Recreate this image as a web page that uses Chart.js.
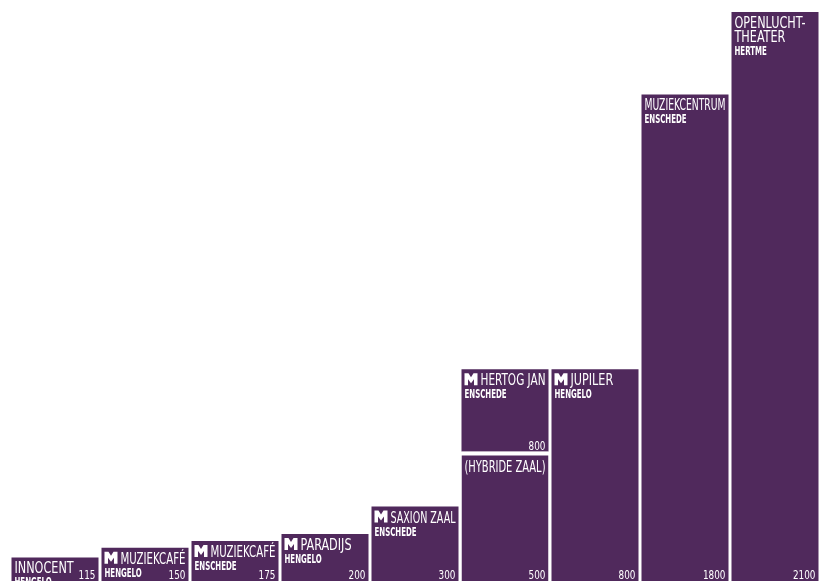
<!DOCTYPE html>
<html>
<head>
<meta charset="utf-8">
<script src="https://cdn.jsdelivr.net/npm/chart.js@4"></script>
<style>
  html, body { margin: 0; padding: 0; background: #fff; overflow: hidden; }
  #wrap { width: 824px; height: 581px; overflow: hidden; }
</style>
</head>
<body>
<div id="wrap"><canvas id="myChart" width="824" height="589"></canvas></div>
<script>
// venues, ordered by capacity
const venues = ["INNOCENT", "MUZIEKCAFÉ", "MUZIEKCAFÉ", "PARADIJS", "SAXION ZAAL", "HERTOG JAN", "JUPILER", "MUZIEKCENTRUM", "OPENLUCHT-\nTHEATER"];
const cities = ["HENGELO", "HENGELO", "ENSCHEDE", "HENGELO", "ENSCHEDE", "ENSCHEDE", "HENGELO", "ENSCHEDE", "HERTME"];
const capacity = [115, 150, 175, 200, 300, 800, 800, 1800, 2100];
const hybrid = [null, null, null, null, null, 500, null, null, null];
const hybridLabel = "(HYBRIDE ZAAL)";
const hasLogo = [false, true, true, true, true, true, true, false, false];

const baseValues = capacity.map((v, i) => hybrid[i] ?? v);
const restValues = capacity.map((v, i) => (hybrid[i] == null ? 0 : v - hybrid[i]));

const PURPLE = "#50295c";
const FONT = "'Liberation Sans Narrow', 'DejaVu Sans Condensed', Roboto, sans-serif";

function drawText(ctx, str, x, y, font, sx, align, maxW) {
  ctx.font = font;
  const w = ctx.measureText(str).width * sx;
  let s = sx;
  if (maxW && w > maxW) s = (sx * maxW) / w;
  ctx.save();
  ctx.translate(x, y);
  ctx.scale(s, 1);
  ctx.textAlign = align;
  ctx.fillText(str, 0, 0);
  ctx.restore();
}

// little "M" venue logo, y is the text baseline
function drawLogo(ctx, x, y) {
  const t = y - 12;
  ctx.beginPath();
  ctx.moveTo(x, t);
  ctx.lineTo(x + 4, t);
  ctx.lineTo(x + 6.5, t + 4);
  ctx.lineTo(x + 9, t);
  ctx.lineTo(x + 13, t);
  ctx.lineTo(x + 13, y);
  ctx.lineTo(x + 9.5, y);
  ctx.lineTo(x + 9.5, t + 6);
  ctx.lineTo(x + 6.5, t + 10);
  ctx.lineTo(x + 3.5, t + 6);
  ctx.lineTo(x + 3.5, y);
  ctx.lineTo(x, y);
  ctx.closePath();
  ctx.fill();
}

function drawBlock(ctx, bar, title, city, value, logo, padTop, bottom) {
  const left = bar.x - bar.width / 2;
  const right = bar.x + bar.width / 2;
  let x = left + 3;
  let y = bar.y + padTop + 16;
  if (logo) {
    drawLogo(ctx, x, y);
    x += 16;
  }
  const lines = title.split("\n");
  lines.forEach((line, k) => {
    drawText(ctx, line, x, y + k * 14, "400 16px " + FONT, 0.78, "left", right - x - 3);
  });
  if (city) {
    drawText(ctx, city, left + 3, y + (lines.length - 1) * 14 + 13, "700 13px " + FONT, 0.6, "left", bar.width - 6);
  }
  drawText(ctx, String(value), right - 3, bottom - 2, "400 12px " + FONT, 0.82, "right");
}

const barLabels = {
  id: "barLabels",
  afterDatasetsDraw(chart) {
    const ctx = chart.ctx;
    const visible = Math.min(chart.chartArea.bottom, document.getElementById("wrap").clientHeight);
    const base = chart.getDatasetMeta(0).data;
    const rest = chart.getDatasetMeta(1).data;
    ctx.save();
    ctx.fillStyle = "#fff";
    ctx.textBaseline = "alphabetic";
    capacity.forEach((v, i) => {
      if (hybrid[i] != null) {
        drawBlock(ctx, rest[i], venues[i], cities[i], v, hasLogo[i], 0, rest[i].base);
        drawBlock(ctx, base[i], hybridLabel, null, hybrid[i], false, 4, visible);
      } else {
        drawBlock(ctx, base[i], venues[i], cities[i], v, hasLogo[i], 0, visible);
      }
    });
    ctx.restore();
  },
};

const ctx = document.getElementById("myChart").getContext("2d");
const myChart = new Chart(ctx, {
  type: "bar",
  data: {
    labels: venues,
    datasets: [
      {
        data: baseValues,
        backgroundColor: PURPLE,
        borderColor: "#fff",
        borderWidth: (c) => (hybrid[c.dataIndex] != null ? { top: 4, left: 0, right: 0, bottom: 0 } : 0),
      },
      {
        data: restValues,
        backgroundColor: PURPLE,
        borderWidth: 0,
      },
    ],
  },
  options: {
    responsive: false,
    animation: false,
    devicePixelRatio: 1,
    layout: { padding: { left: 10, right: 4, top: 12, bottom: 0 } },
    datasets: { bar: { categoryPercentage: 1, barPercentage: 87 / 90 } },
    plugins: { legend: { display: false }, tooltip: { enabled: false } },
    scales: {
      x: { display: false, stacked: true },
      y: { display: false, stacked: true, min: 0, max: 2100 },
    },
  },
  plugins: [barLabels],
});
</script>
</body>
</html>
